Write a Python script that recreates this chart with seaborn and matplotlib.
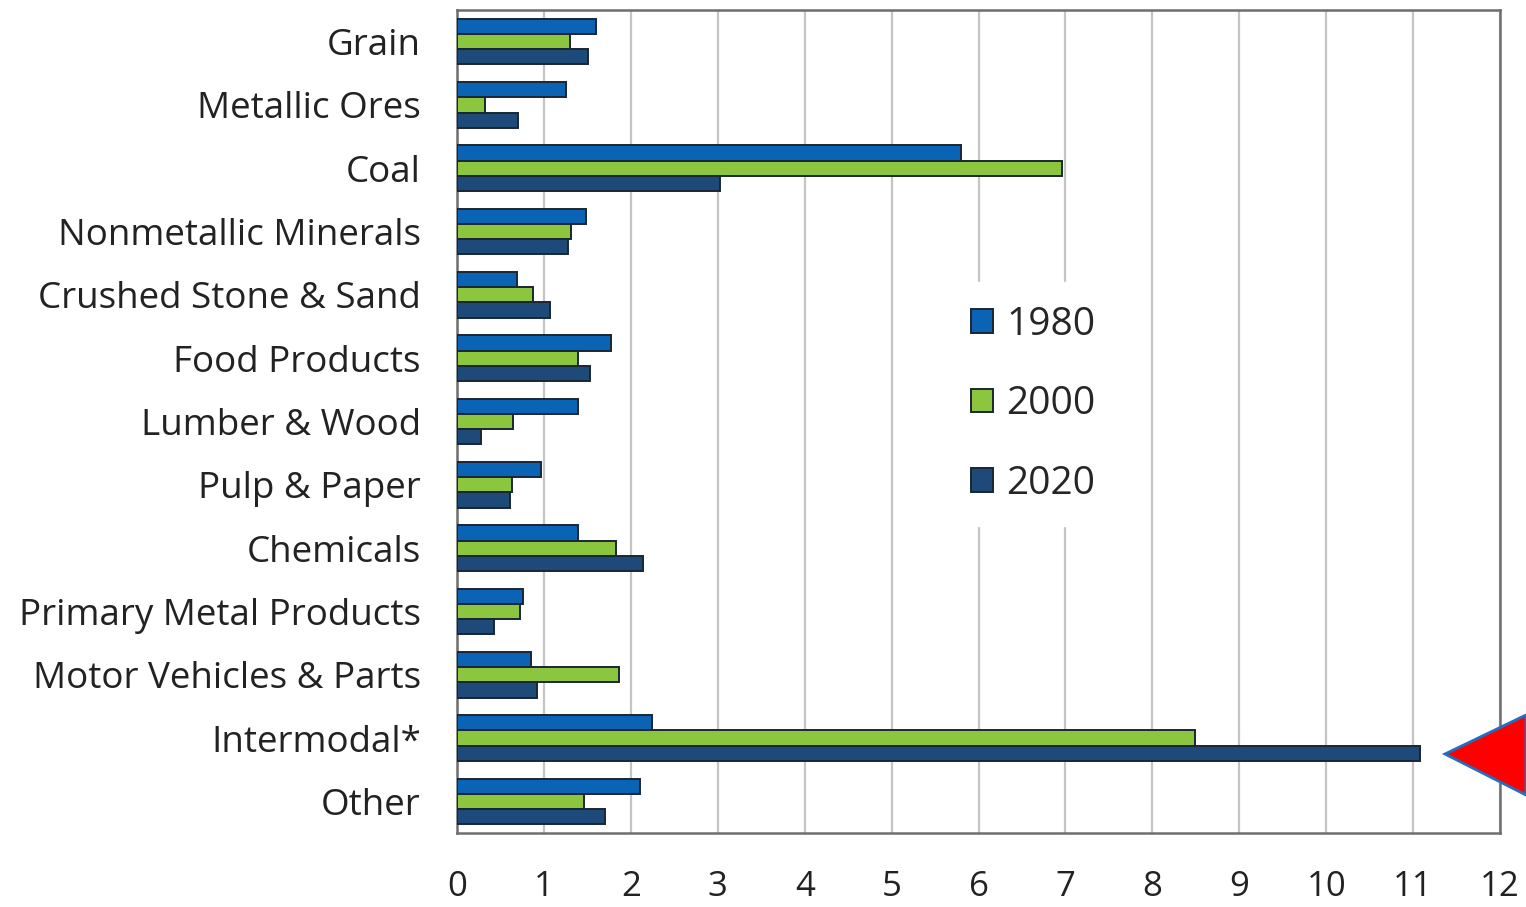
import matplotlib
matplotlib.use("Agg")
import matplotlib.pyplot as plt
from matplotlib.patches import Polygon
import seaborn as sns
import pandas as pd

categories = ["Grain", "Metallic Ores", "Coal", "Nonmetallic Minerals",
              "Crushed Stone & Sand", "Food Products", "Lumber & Wood",
              "Pulp & Paper", "Chemicals", "Primary Metal Products",
              "Motor Vehicles & Parts", "Intermodal*", "Other"]
years = ["1980", "2000", "2020"]
values_1980 = [1.60, 1.25, 5.80, 1.48, 0.69, 1.77, 1.39, 0.97, 1.39, 0.76, 0.85, 2.24, 2.11]
values_2000 = [1.30, 0.32, 6.96, 1.31, 0.87, 1.39, 0.64, 0.63, 1.83, 0.72, 1.86, 8.49, 1.46]
values_2020 = [1.51, 0.70, 3.03, 1.28, 1.07, 1.53, 0.28, 0.61, 2.14, 0.43, 0.92, 11.08, 1.70]
x_ticks = list(range(0, 13))

colors = ["#0b63b5", "#8cc63e", "#1d4a78"]

rows = []
for yr, vals in zip(years, [values_1980, values_2000, values_2020]):
    for c, v in zip(categories, vals):
        rows.append({"category": c, "year": yr, "value": v})
df = pd.DataFrame(rows)

sns.set_theme(style="white")
plt.rcParams["font.family"] = ["Open Sans", "DejaVu Sans"]

fig = plt.figure(figsize=(15.26, 9.07), dpi=100)
ax = fig.add_axes([0.2995, 0.0816, 0.6835, 0.9074])

sns.barplot(data=df, y="category", x="value", hue="year", orient="h",
            palette=colors, width=0.72, edgecolor="#1a2633", linewidth=1.4,
            saturation=1, ax=ax, zorder=3)

ax.set_xlim(0, 12)
ax.set_xticks(x_ticks)
ax.set_xticklabels([str(t) for t in x_ticks], fontsize=25, color="#222222")
ax.tick_params(axis="x", pad=27, length=0)
ax.tick_params(axis="y", pad=26, length=0, labelsize=26.5, labelcolor="#222222")
ax.set_xlabel("")
ax.set_ylabel("")
ax.xaxis.grid(True, color="#c4c4c4", linewidth=1.6, zorder=0)
ax.set_axisbelow(True)
for s in ax.spines.values():
    s.set_color("#6e6e6e")
    s.set_linewidth(1.8)

leg = ax.legend(loc="center left", bbox_to_anchor=(0.452, 0.521), frameon=True,
                fontsize=28, handlelength=0.55, handleheight=0.55,
                labelspacing=1.07, handletextpad=0.35, borderpad=0.6)
leg.get_frame().set_facecolor("white")
leg.get_frame().set_edgecolor("white")
leg.get_frame().set_alpha(1)

# pointer marking the intermodal bar
arrow = Polygon([[1445 / 1526, 1 - 754 / 907], [1.0, 1 - 715 / 907], [1.0, 1 - 795 / 907]],
                closed=True, transform=fig.transFigure, facecolor="#ff0000",
                edgecolor="#1f6fc4", linewidth=2, clip_on=False)
fig.patches.append(arrow)

fig.savefig("out.png", dpi=100)
